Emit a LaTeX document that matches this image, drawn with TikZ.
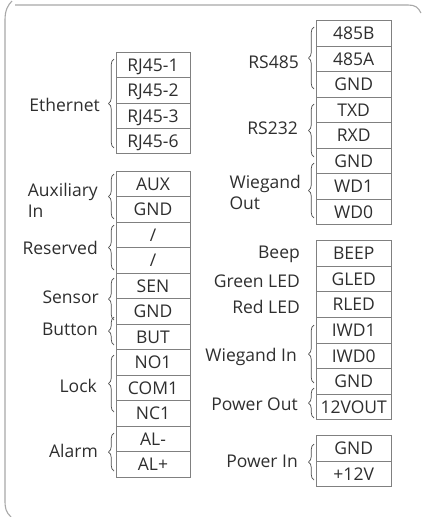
\documentclass[tikz,border=0pt]{standalone}
\usepackage{fontspec}
\setmainfont{Open Sans}
\usetikzlibrary{decorations.pathreplacing}
\definecolor{txt}{HTML}{2E2E2E}
\definecolor{boxline}{HTML}{808080}
\definecolor{framec}{HTML}{A8A8A8}
\begin{document}
\begin{tikzpicture}[x=1pt,y=-1pt,
  font=\fontsize{17.5}{21}\selectfont, text=txt,
  cell/.style={draw=boxline, line width=0.9pt, minimum width=74pt, minimum height=25.5pt,
    inner sep=0pt, text height=12.5pt, text depth=0pt},
  rcell/.style={cell, minimum width=74.7pt},
  lbl/.style={anchor=east, inner sep=0pt, text height=12.5pt, text depth=0pt},
  lbll/.style={anchor=west, inner sep=0pt, text height=12.5pt, text depth=0pt},
  brc/.style={draw=txt!85, line width=0.7pt, decorate, decoration={brace, amplitude=5.5pt}}]
\useasboundingbox (0,0) rectangle (422,517);
% outer frame
\draw[framec, line width=1.1pt] (11,517) .. controls (6,512) and (5,509) .. (5,500)
  -- (5,20) .. controls (5,10) and (8,5) .. (12,1);
\draw[framec, line width=1.1pt] (15,5) -- (408,5) .. controls (415,5) and (418,7) .. (421,13);

% ---------- left column ----------
\node[cell, minimum height=25.4pt] (rj1) at (153,65.0) {RJ45-1};
\node[cell, minimum height=25.4pt] (rj2) at (153,90.4) {RJ45-2};
\node[cell, minimum height=25.4pt] (rj3) at (153,115.8) {RJ45-3};
\node[cell, minimum height=25.4pt] (rj6) at (153,141.2) {RJ45-6};

\node[cell] (aux)  at (153,183.75) {AUX};
\node[cell] (agnd) at (153,209.25) {GND};
\node[cell] (res1) at (153,234.75) {/};
\node[cell] (res2) at (153,260.25) {/};
\node[cell] (sen)  at (153,285.75) {SEN};
\node[cell] (sgnd) at (153,311.25) {GND};
\node[cell] (but)  at (153,336.75) {BUT};
\node[cell] (no1)  at (153,362.25) {NO1};
\node[cell] (com1) at (153,387.75) {COM1};
\node[cell] (nc1)  at (153,413.25) {NC1};
\node[cell] (alm)  at (153,438.75) {AL-};
\node[cell] (alp)  at (153,464.25) {AL+};

% ---------- right column ----------
\node[rcell] (b485) at (353.7,33.45) {485B};
\node[rcell] (a485) at (353.7,58.95) {485A};
\node[rcell] (g485) at (353.7,84.45) {GND};
\node[rcell] (txd)  at (353.7,109.95) {TXD};
\node[rcell] (rxd)  at (353.7,135.45) {RXD};
\node[rcell] (g232) at (353.7,160.95) {GND};
\node[rcell] (wd1)  at (353.7,186.45) {WD1};
\node[rcell] (wd0)  at (353.7,211.95) {WD0};

\node[rcell, minimum height=25.6pt] (beep) at (353.7,253.5) {BEEP};
\node[rcell, minimum height=25.6pt] (gled) at (353.7,279.1) {GLED};
\node[rcell, minimum height=25.6pt] (rled) at (353.7,304.6) {RLED};
\node[rcell, minimum height=25.6pt] (iwd1) at (353.7,330.2) {IWD1};
\node[rcell, minimum height=25.6pt] (iwd0) at (353.7,355.8) {IWD0};
\node[rcell, minimum height=25.6pt] (igng) at (353.7,381.3) {GND};
\node[rcell, minimum height=25.6pt] (vout) at (353.7,406.9) {12VOUT};

\node[rcell, minimum height=25.85pt] (pgnd) at (353.7,448.2) {GND};
\node[rcell, minimum height=25.85pt] (p12)  at (353.7,474.0) {+12V};

% ---------- left labels and braces ----------
\node[lbl] (leth) at (100,105) {Ethernet};
\draw[brc] (114,148) -- (114,59);
\node[lbl] (laux) at (98,190) {Auxiliary};
\node[lbll] (lauxin) at (laux.west |- 0,211) {In};
\draw[brc] (114,219) -- (114,174);
\node[lbl] (lres) at (98,248) {Reserved};
\draw[brc] (114,270) -- (114,225);
\node[lbl] (lsen) at (99,297) {Sensor};
\draw[brc] (114,320) -- (114,278);
\node[lbl] (lbut) at (98,329) {Button};
\draw[brc] (114,345) -- (114,317);
\node[lbl] (llock) at (97,386) {Lock};
\draw[brc] (114,412) -- (114,355);
\node[lbl] (lalarm) at (98,451) {Alarm};
\draw[brc] (114,471) -- (114,433);

% ---------- right labels and braces ----------
\node[lbl] (lrs485) at (299,62) {RS485};
\draw[brc] (314,89) -- (314,27);
\node[lbl] (lrs232) at (298,128) {RS232};
\draw[brc] (314,157) -- (314,104);
\node[lbl] (lwg) at (301,182) {Wiegand};
\node[lbll] (lwgout) at (lwg.west |- 0,203) {Out};
\draw[brc] (314,218) -- (314,163);
\node[lbl] (lbeep) at (300,252) {Beep};
\node[lbl] (lgled) at (300,281) {Green LED};
\node[lbl] (lrled) at (300,307) {Red LED};
\node[lbl] (lwgin) at (297,355) {Wiegand In};
\draw[brc] (314,383) -- (314,325);
\node[lbl] (lpout) at (298,404) {Power Out};
\draw[brc] (314,418) -- (314,388);
\node[lbl] (lpin) at (298,461) {Power In};
\draw[brc] (314,480) -- (314,444);
\end{tikzpicture}
\end{document}
